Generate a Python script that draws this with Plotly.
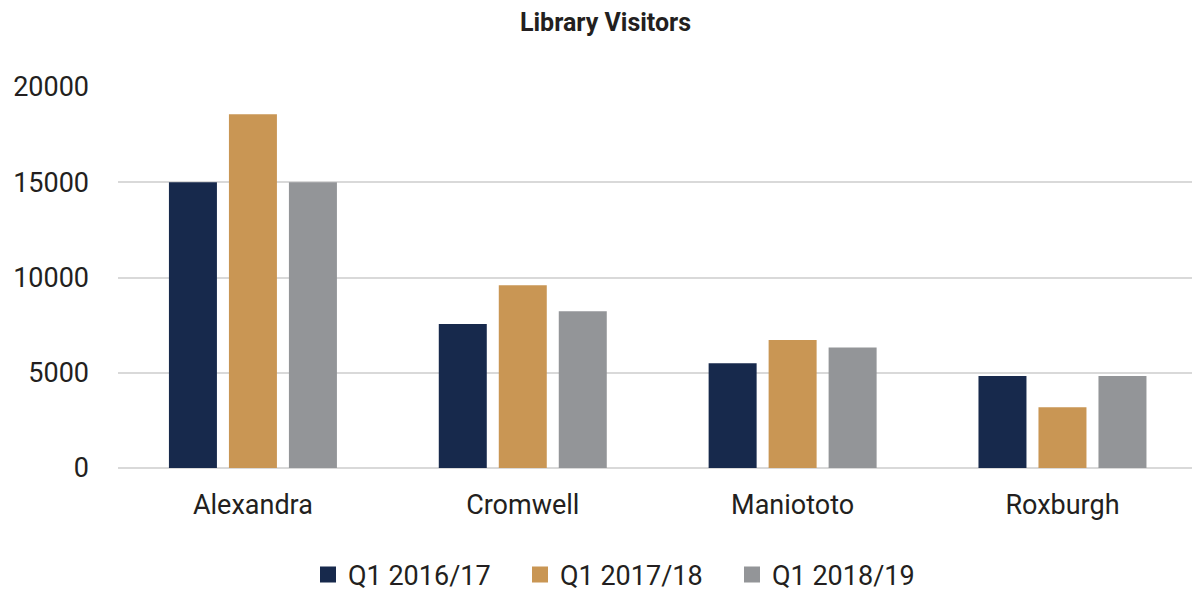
import plotly.graph_objects as go

libraries = ["Alexandra", "Cromwell", "Maniototo", "Roxburgh"]
q1_2016_17 = [15000, 7560, 5500, 4830]
q1_2017_18 = [18570, 9590, 6720, 3190]
q1_2018_19 = [15000, 8230, 6320, 4830]

series = [
    ("Q1 2016/17", q1_2016_17, "#17294c"),
    ("Q1 2017/18", q1_2017_18, "#c99654"),
    ("Q1 2018/19", q1_2018_19, "#939598"),
]

font_family = "Roboto, sans-serif"
text_color = "#231f20"

fig = go.Figure()
for name, values, color in series:
    fig.add_trace(go.Bar(
        x=libraries, y=values, name=name, showlegend=False,
        marker=dict(color=color, line=dict(width=0)),
    ))
# square swatches for the legend
for name, values, color in series:
    fig.add_trace(go.Scatter(
        x=[None], y=[None], mode="markers", name=name,
        marker=dict(symbol="square", size=18, color=color),
    ))

fig.update_layout(
    width=1192, height=592,
    paper_bgcolor="white", plot_bgcolor="white",
    barmode="group", bargap=0.333, bargroupgap=0.2,
    margin=dict(l=118, r=0, t=87, b=124),
    title=dict(
        text="<b>Library Visitors</b>", x=0.508, xanchor="center",
        y=0.963, yanchor="middle",
        font=dict(family=font_family, size=25, color=text_color),
    ),
    font=dict(family=font_family, color=text_color),
    xaxis=dict(
        range=[-0.5, 3.48],
        showgrid=False, showline=False, ticks="",
        ticklabelstandoff=18,
        tickfont=dict(size=27, color=text_color),
    ),
    yaxis=dict(
        range=[0, 20000], tickvals=[0, 5000, 10000, 15000, 20000],
        tickformat="d",
        showgrid=True, gridcolor="#d9d9d9", gridwidth=2,
        zeroline=True, zerolinecolor="#d9d9d9", zerolinewidth=2,
        showline=False, ticks="",
        ticklabelstandoff=28,
        tickfont=dict(size=27, color=text_color),
    ),
    legend=dict(
        orientation="h", x=0.473, xanchor="center",
        yref="container", y=0.029, yanchor="middle",
        font=dict(size=27, color=text_color),
        itemwidth=30, entrywidth=167, entrywidthmode="pixels",
        tracegroupgap=0,
    ),
)

fig.write_html("out.html")
